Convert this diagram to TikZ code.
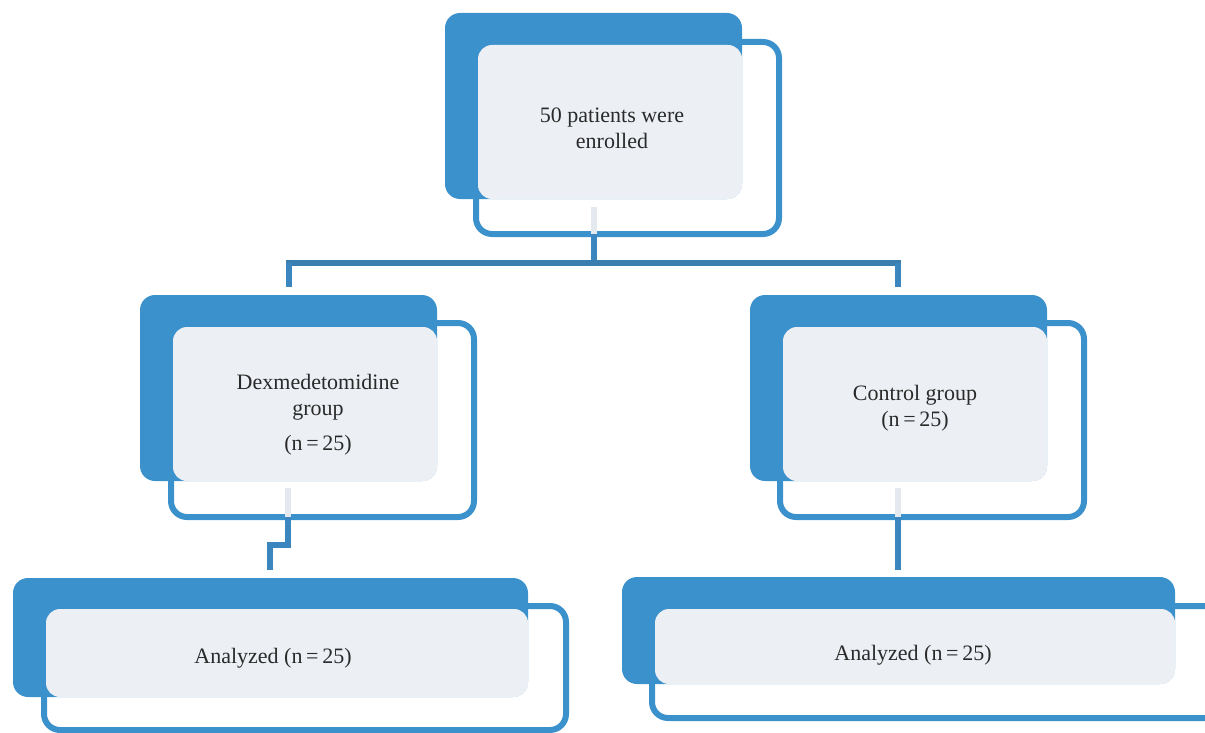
\documentclass[tikz,border=0pt]{standalone}
\usepackage{fontspec}
\setmainfont{Liberation Serif}
\definecolor{boxblue}{HTML}{3B91CB}
\definecolor{linkblue}{HTML}{3B86BF}
\definecolor{barblue}{HTML}{3A7DAF}
\definecolor{panel}{HTML}{ECEFF4}
\definecolor{stubc}{HTML}{E4E9F0}
\definecolor{ink}{HTML}{2A2A2A}
\tikzset{
  backfill/.style={fill=boxblue, rounded corners=15pt},
  frameline/.style={draw=boxblue, line width=6pt, rounded corners=16pt},
  panelbox/.style={fill=panel, rounded corners=14pt},
  label/.style={text=ink, font=\fontsize{22}{26}\selectfont, align=center, inner sep=0pt},
  link/.style={draw=linkblue, line width=6pt},
  bar/.style={draw=barblue, line width=6pt},
  stubline/.style={draw=stubc, line width=6pt}
}
\begin{document}
\begin{tikzpicture}[x=1pt,y=-1pt]
\useasboundingbox (0,0) rectangle (1205,733);
% ---- top box
\fill[backfill] (445,13) rectangle (742,199);
\draw[frameline] (476,42) rectangle (779,234);
\fill[panelbox] (478,45) rectangle (742,199);
\node[label] (top) at (612,128) {50 patients were\\enrolled};
\coordinate (topout) at (594,234);
% ---- left middle box
\fill[backfill] (140,295) rectangle (437,481);
\draw[frameline] (171,323) rectangle (474,517);
\fill[panelbox] (173,327) rectangle (437,481);
\node[label] (dex) at (318,397) {Dexmedetomidine\\group};
\node[label] (dexn) at (318,445) {(n\,=\,25)};
\coordinate (dexout) at (288,517);
% ---- right middle box
\fill[backfill] (750,295) rectangle (1047,481);
\draw[frameline] (780,323) rectangle (1084,517);
\fill[panelbox] (783,327) rectangle (1047,481);
\node[label] (ctl) at (915,408) {Control group\\(n\,=\,25)};
\coordinate (ctlout) at (898,517);
% ---- bottom left box
\fill[backfill] (13,578) rectangle (528,697);
\draw[frameline] (44,606) rectangle (566,730);
\fill[panelbox] (46,609) rectangle (528,697);
\node[label] (anl) at (273,658) {Analyzed (n\,=\,25)};
\coordinate (anlin) at (270,570);
% ---- bottom right box
\fill[backfill] (622,577) rectangle (1175,684);
\draw[frameline] (652,606) rectangle (1230,718);
\fill[panelbox] (655,609) rectangle (1175,684);
\node[label] (anr) at (913,655) {Analyzed (n\,=\,25)};
\coordinate (anrin) at (898,570);
% ---- light stubs
\draw[stubline] (594,207) -- (topout);
\draw[stubline] (288,488) -- (dexout);
\draw[stubline] (898,488) -- (ctlout);
% ---- connectors
\coordinate (barL) at (289,263);
\coordinate (barR) at (898,263);
\coordinate (dexin) at (289,287);
\coordinate (ctlin) at (898,287);
\draw[link] (topout) -- (594,263);
\draw[bar] ([xshift=-3pt]barL) -- ([xshift=3pt]barR);
\draw[link] (barL) -- (dexin);
\draw[link] (barR) -- (ctlin);
\draw[link] (dexout) -- (288,545) -- (270,545) -- (anlin);
\draw[link] (ctlout) -- (anrin);
\end{tikzpicture}
\end{document}
